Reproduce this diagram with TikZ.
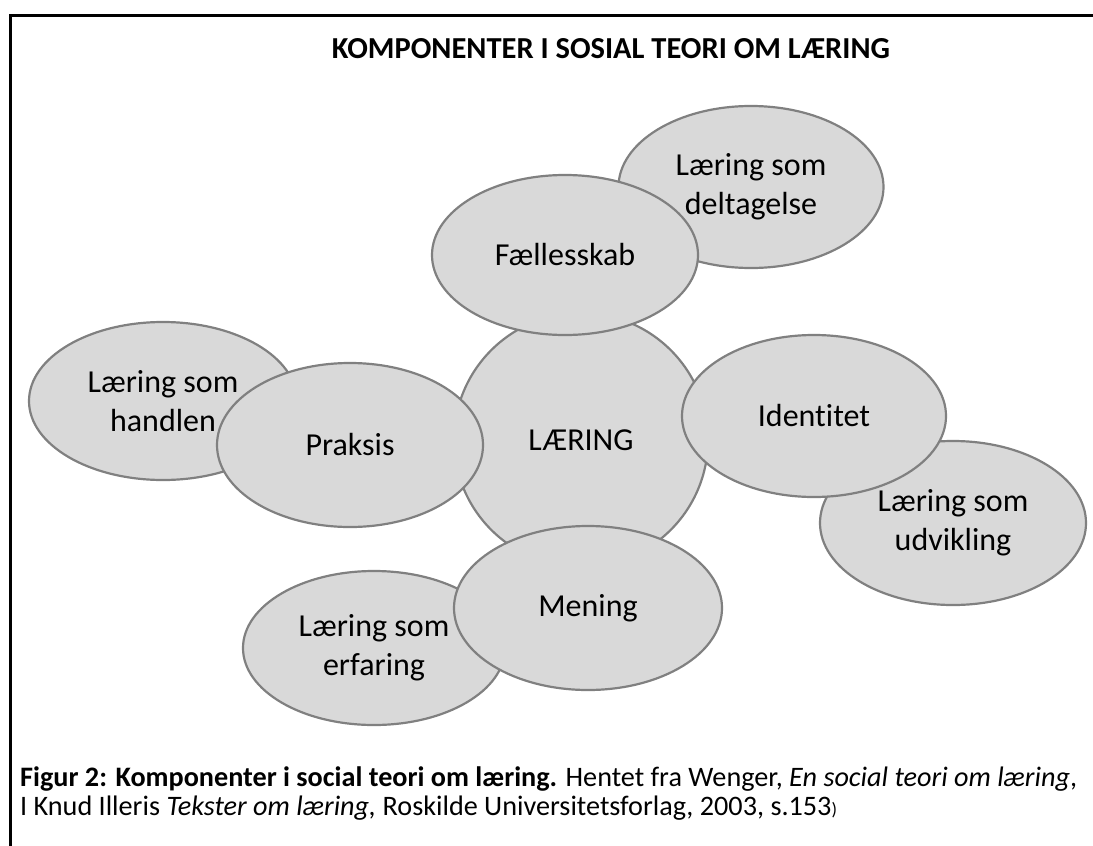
\documentclass[tikz,border=0pt]{standalone}
\usepackage{fontspec}
\setmainfont{Carlito}[Ligatures=NoCommon]
\usetikzlibrary{shapes.geometric}
\definecolor{bubblefill}{HTML}{D9D9D9}
\definecolor{bubbleline}{HTML}{808080}
\newcommand\bubblesize{\fontsize{32}{39}\selectfont}

\begin{document}
\begin{tikzpicture}[
    x=1pt, y=-1pt,
    bubble/.style={
      ellipse, draw=bubbleline, fill=bubblefill, line width=2.2pt,
      inner sep=0pt, align=center, font=\bubblesize
    },
    caption/.style={
      anchor=base west, inner sep=0pt, font=\fontsize{28.2}{33}\selectfont
    }
  ]
    \useasboundingbox (0,0) rectangle (1093,846);
    \draw[line width=3pt] (10,846) -- (10,15) -- (1093,15);

    \node[anchor=base, inner sep=0pt, font=\fontsize{30.5}{36}\selectfont\bfseries]
      (title) at (611,58) {KOMPONENTER I SOSIAL TEORI OM LÆRING};

    % centre
    \node[bubble, minimum width=254pt, minimum height=254pt] (laering) at (581,440) {LÆRING};

    % outer ring: the ways of learning
    \node[bubble, minimum width=268pt, minimum height=158pt] (handlen) at (163,401) {Læring som\\handlen};
    \node[bubble, minimum width=265pt, minimum height=162pt] (deltagelse) at (751,187) {Læring som\\deltagelse};
    \node[bubble, minimum width=266pt, minimum height=164pt] (udvikling) at (953,523) {Læring som\\udvikling};
    \node[bubble, minimum width=262pt, minimum height=154pt] (erfaring) at (374,648) {Læring som\\erfaring};

    % inner ring: the components
    \node[bubble, minimum width=266pt, minimum height=164pt] (praksis) at (350,445) {Praksis};
    \node[bubble, minimum width=266pt, minimum height=160pt] (faelles) at (565,255) {Fællesskab};
    \node[bubble, minimum width=264pt, minimum height=162pt] (identitet) at (814,416) {Identitet};
    \node[bubble, minimum width=268pt, minimum height=164pt] (mening) at (588,608) {Mening};

    \node[caption] (cap1) at (20,786) {\textbf{Figur 2: Komponenter i social teori om læring.} Hentet fra Wenger, \textit{En social teori om læring},};
    \node[caption] (cap2) at (20,815) {I Knud Illeris \textit{Tekster om læring,} Roskilde Universitetsforlag, 2003, s.153{\fontsize{18}{20}\selectfont)}};
\end{tikzpicture}
\end{document}
